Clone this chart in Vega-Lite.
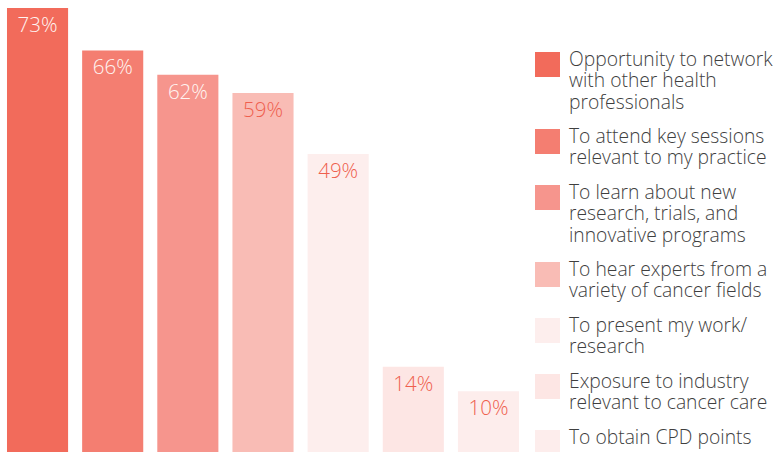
{
  "$schema": "https://vega.github.io/schema/vega-lite/v6.json",
  "width": 526,
  "height": 452,
  "padding": 0,
  "autosize": {"type": "pad"},
  "background": "white",
  "config": {
    "view": {"stroke": null},
    "font": "Open Sans",
    "style": {"guide-label": {"lineHeight": 21.5, "dy": -14}}
  },
  "data": {"values": [
    {"reason": "Opportunity to network with other health professionals", "share": 0.73},
    {"reason": "To attend key sessions relevant to my practice", "share": 0.66},
    {"reason": "To learn about new research, trials, and innovative programs", "share": 0.62},
    {"reason": "To hear experts from a variety of cancer fields", "share": 0.59},
    {"reason": "To present my work/ research", "share": 0.49},
    {"reason": "Exposure to industry relevant to cancer care", "share": 0.14},
    {"reason": "To obtain CPD points", "share": 0.10}
  ]},
  "encoding": {
    "x": {"field": "reason", "type": "nominal", "sort": null, "axis": null,
      "scale": {"paddingInner": 0.187, "paddingOuter": 0.093}},
    "y": {"field": "share", "type": "quantitative", "axis": null,
      "scale": {"domain": [0, 0.743], "nice": false, "zero": true}}
  },
  "layer": [
    {
      "mark": {"type": "bar"},
      "encoding": {
        "color": {"field": "reason", "type": "nominal", "sort": null,
          "scale": {
            "domain": ["Opportunity to network with other health professionals", "To attend key sessions relevant to my practice", "To learn about new research, trials, and innovative programs", "To hear experts from a variety of cancer fields", "To present my work/ research", "Exposure to industry relevant to cancer care", "To obtain CPD points"],
            "range": ["#f26b5b", "#f47e71", "#f6958d", "#f9bcb5", "#fdeeed", "#fde6e4", "#fdedec"]
          },
          "legend": {
            "title": null,
            "orient": "none",
            "legendX": 535,
            "legendY": 52,
            "symbolType": "square",
            "symbolSize": 625,
            "symbolStrokeWidth": 0,
            "symbolOpacity": 1,
            "labelFont": "Open Sans",
            "labelFontSize": 19.3,
            "labelFontWeight": 300,
            "labelColor": "#3f3f3f",
            "labelLimit": 400,
            "labelOffset": 9,
            "labelBaseline": "top",
            "rowPadding": 14,
            "labelExpr": "datum.label == 'Opportunity to network with other health professionals' ? ['Opportunity to network', 'with other health', 'professionals'] : datum.label == 'To attend key sessions relevant to my practice' ? ['To attend key sessions', 'relevant to my practice'] : datum.label == 'To learn about new research, trials, and innovative programs' ? ['To learn about new', 'research, trials, and', 'innovative programs'] : datum.label == 'To hear experts from a variety of cancer fields' ? ['To hear experts from a', 'variety of cancer fields'] : datum.label == 'To present my work/ research' ? ['To present my work/', 'research'] : datum.label == 'Exposure to industry relevant to cancer care' ? ['Exposure to industry', 'relevant to cancer care'] : datum.label"
          }
        }
      }
    },
    {
      "mark": {"type": "text", "baseline": "middle", "dy": 18, "fontSize": 20.5, "fontWeight": 300, "font": "Open Sans"},
      "encoding": {
        "text": {"field": "share", "type": "quantitative", "format": ".0%"},
        "color": {"condition": {"test": "datum.share >= 0.6", "value": "#fff5f2"}, "value": "#ef5f4e"}
      }
    }
  ]
}
